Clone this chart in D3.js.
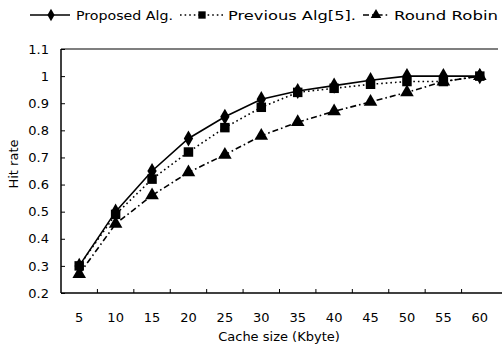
<!DOCTYPE html>
<html><head><meta charset="utf-8">
<script src="https://cdn.jsdelivr.net/npm/d3@7"></script>
<style>body{margin:0;background:#fff}svg{display:block;font-family:"DejaVu Sans",sans-serif}</style>
</head><body><svg id="c" width="504" height="347"></svg>
<script>
const categories = ["5","10","15","20","25","30","35","40","45","50","55","60"];
const proposed = [0.30,0.50,0.65,0.77,0.85,0.915,0.945,0.965,0.985,1.0,1.0,1.0];
const previous = [0.30,0.49,0.62,0.72,0.81,0.885,0.94,0.955,0.97,0.98,0.98,1.0];
const roundRobin = [0.27,0.455,0.56,0.645,0.71,0.78,0.83,0.87,0.905,0.94,0.98,1.0];
const yTicks = [0.2,0.3,0.4,0.5,0.6,0.7,0.8,0.9,1.0,1.1];
const seriesNames = ["Proposed Alg.","Previous Alg[5].","Round Robin"];

const svg = d3.select("#c");
const FONT = "DejaVu Sans, sans-serif";
const L = 61, R = 498, T = 49, B = 293;
const x = d3.scaleBand().domain(categories).range([L, R]);
const y = d3.scaleLinear().domain([0.2, 1.1]).range([B, T]);

const styles = [
  {dash: null, sym: d3.symbolDiamond, size: 75},
  {dash: "1.6,3", sym: d3.symbolSquare, size: 90},
  {dash: "6,3,1.6,3", sym: d3.symbolTriangle, size: 80}
];
const series = [proposed, previous, roundRobin];

// frame
svg.append("line").attr("x1", L).attr("x2", R).attr("y1", T).attr("y2", T).attr("stroke", "#000").attr("stroke-width", 1.2);
svg.append("line").attr("x1", L).attr("x2", 502).attr("y1", B).attr("y2", B).attr("stroke", "#000").attr("stroke-width", 1.5);
svg.append("line").attr("x1", L).attr("x2", L).attr("y1", T).attr("y2", B).attr("stroke", "#000").attr("stroke-width", 1.5);

// y axis
const yAxis = d3.axisRight(y).tickValues(yTicks).tickSize(4).tickFormat(d => String(+d.toFixed(1)));
const gy = svg.append("g").attr("transform", `translate(${L},0)`).call(yAxis);
gy.select(".domain").remove();
gy.selectAll(".tick line").attr("stroke", "#000");
gy.selectAll(".tick text").attr("x", -12).attr("text-anchor", "end").attr("font-size", 13).attr("fill", "#000").attr("font-family", FONT);

// x axis: ticks between categories, labels centered
const gx = svg.append("g").attr("transform", `translate(0,${B})`);
const xAxis = d3.axisBottom(x).tickSize(0).tickPadding(0);
gx.call(xAxis);
gx.select(".domain").remove();
gx.selectAll(".tick text").attr("dy", null).attr("y", 29).attr("font-size", 13).attr("fill", "#000").attr("font-family", FONT);
gx.selectAll(".sep").data(categories.slice(1)).enter().append("line")
  .attr("x1", d => x(d)).attr("x2", d => x(d)).attr("y1", 0).attr("y2", -4).attr("stroke", "#000");

// labels
svg.append("text").attr("x", 279).attr("y", 341).attr("text-anchor", "middle").attr("font-size", 13).text("Cache size (Kbyte)");
svg.append("text").attr("transform", "translate(18,164) rotate(-90)").attr("text-anchor", "middle").attr("font-size", 13).text("Hit rate");

// series
const cx = d => x(d) + x.bandwidth() / 2;
series.forEach((vals, i) => {
  const st = styles[i];
  const line = d3.line().x((d, j) => cx(categories[j])).y(d => y(d));
  svg.append("path").datum(vals).attr("d", line).attr("fill", "none").attr("stroke", "#000").attr("stroke-width", 1.6)
    .attr("stroke-dasharray", st.dash);
  svg.selectAll(null).data(vals).enter().append("path")
    .attr("d", d3.symbol().type(st.sym).size(st.size))
    .attr("transform", (d, j) => `translate(${cx(categories[j])},${y(d)})`)
    .attr("fill", "#000");
});

// legend
const legend = [
  {x1: 30, x2: 70, sx: 51, tx: 76, tw: 97},
  {x1: 180, x2: 223, sx: 202, tx: 228, tw: 128},
  {x1: 363, x2: 390, sx: 376, tx: 394, tw: 104}
];
legend.forEach((lg, i) => {
  const st = styles[i];
  const ly = 15;
  svg.append("line").attr("x1", lg.x1).attr("x2", lg.x2).attr("y1", ly).attr("y2", ly).attr("stroke", "#000").attr("stroke-width", 1.6)
    .attr("stroke-dasharray", st.dash);
  svg.append("path").attr("d", d3.symbol().type(st.sym).size(st.size * 0.6)).attr("transform", `translate(${lg.sx},${ly})`).attr("fill", "#000");
  svg.append("text").attr("x", lg.tx).attr("y", ly + 5).attr("font-size", 13)
    .attr("textLength", lg.tw).attr("lengthAdjust", "spacingAndGlyphs").text(seriesNames[i]);
});
</script></body></html>
